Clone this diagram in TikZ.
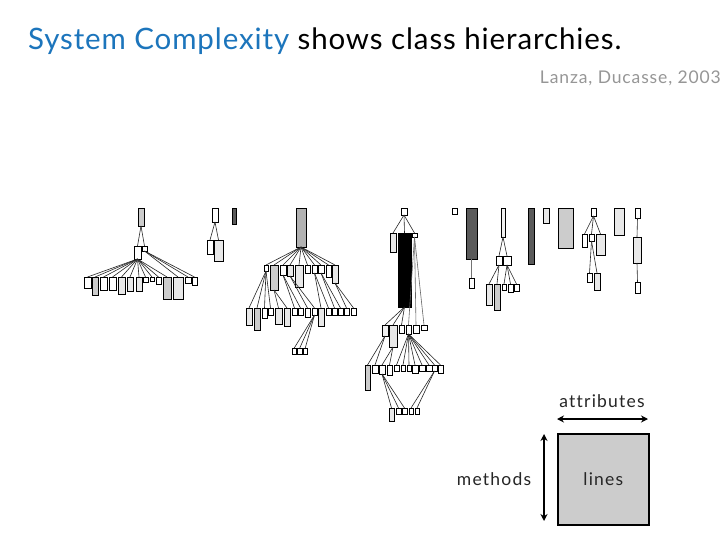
\documentclass[tikz,border=0pt]{standalone}
\usepackage{fontspec}
\setmainfont{Lato}
\usetikzlibrary{arrows.meta}
\definecolor{titleblue}{RGB}{28,117,188}
\definecolor{citegray}{RGB}{150,150,150}
\definecolor{gA}{RGB}{232,232,232}
\definecolor{gB}{RGB}{204,204,204}
\definecolor{gC}{RGB}{178,178,178}
\definecolor{gD}{RGB}{90,90,90}
\begin{document}
\begin{tikzpicture}[x=1pt,y=-1pt,
  bx/.style={draw=black, line width=0.8pt, inner sep=0pt, outer sep=0pt, anchor=north west},
  edge/.style={draw=black!85, line width=0.6pt},
  legendtext/.style={font=\fontsize{17.5}{20}\selectfont\addfontfeatures{LetterSpace=7,Ligatures=NoCommon}, text=black!85, inner sep=0pt},
  dbl/.style={line width=1.6pt, {Stealth[length=7pt,width=7pt]}-{Stealth[length=7pt,width=7pt]}}]
\useasboundingbox[fill=white] (0,0) rectangle (728,546);
\newcommand\mybx[6]{\node[bx, fill=#6, minimum width=#4pt, minimum height=#5pt] (#1) at (#2,#3) {};}

% title
\node[anchor=base west, inner sep=0pt, font=\fontsize{29.5}{32}\selectfont\addfontfeatures{LetterSpace=3}] (title) at (28,49)
  {\textcolor{titleblue}{System Complexity} shows class hierarchies.};
\node[anchor=base east, inner sep=0pt, font=\fontsize{17.5}{20}\selectfont\addfontfeatures{LetterSpace=5}, text=citegray] (cite) at (721,83)
  {Lanza, Ducasse, 2003};

% ---------- tree 1
\mybx{t1r}{138}{208}{6}{18}{gB}
\mybx{t1a}{134}{246}{7}{13}{white}
\mybx{t1b}{142}{246}{5}{5}{white}
\mybx{t1l1}{84}{277}{7}{11}{white}
\mybx{t1l2}{92}{277}{6}{18}{gB}
\mybx{t1l3}{100}{277}{7}{13}{white}
\mybx{t1l4}{109}{277}{7}{13}{white}
\mybx{t1l5}{118}{277}{7}{17}{gA}
\mybx{t1l6}{127}{277}{6}{14}{gA}
\mybx{t1l7}{136}{277}{6}{14}{gA}
\mybx{t1l8}{143}{277}{5}{5}{white}
\mybx{t1l9}{150}{277}{4}{4}{white}
\mybx{t1l10}{156}{277}{5}{7}{white}
\mybx{t1l11}{163}{277}{8}{22}{gB}
\mybx{t1l12}{173}{277}{10}{22}{gA}
\mybx{t1l13}{185}{277}{6}{6}{white}
\mybx{t1l14}{192}{277}{5}{8}{white}
\draw[edge] (t1r.south) -- (t1a.north);
\draw[edge] (t1r.south) -- (t1b.north);
\foreach \i in {1,...,11} \draw[edge] (t1a.south) -- (t1l\i.north);
\foreach \i in {12,...,14} \draw[edge] (t1b.south) -- (t1l\i.north);

% ---------- tree 2
\mybx{t2r}{212}{208}{6}{14}{white}
\mybx{t2d}{232}{208}{4}{16}{gD}
\mybx{t2a}{207}{240}{6}{14}{white}
\mybx{t2b}{214}{240}{9}{21}{gA}
\draw[edge] (t2r.south) -- (t2a.north);
\draw[edge] (t2r.south) -- (t2b.north);

% ---------- tree 3
\mybx{t3r}{296}{208}{10}{39}{gC}
\mybx{t3a}{264}{265}{4}{6}{white}
\mybx{t3b}{270}{265}{8}{25}{gB}
\mybx{t3c}{280}{265}{6}{10}{white}
\mybx{t3d}{287}{265}{6}{11}{gA}
\mybx{t3e}{295}{265}{8}{22}{gA}
\mybx{t3f}{305}{265}{5}{8}{white}
\mybx{t3g}{312}{265}{5}{8}{white}
\mybx{t3h}{318}{265}{6}{8}{white}
\mybx{t3i}{326}{265}{5}{12}{white}
\mybx{t3j}{332}{265}{6}{18}{gA}
\foreach \n in {a,b,c,d,e,f,g,h,i,j} \draw[edge] (t3r.south) -- (t3\n.north);
\mybx{t3m1}{246}{308}{6}{17}{gA}
\mybx{t3m2}{254}{308}{6}{22}{gB}
\mybx{t3m3}{262}{308}{5}{10}{white}
\mybx{t3m4}{268}{308}{5}{7}{white}
\mybx{t3m5}{275}{308}{7}{16}{gA}
\mybx{t3m6}{284}{308}{6}{18}{gA}
\mybx{t3m7}{292}{308}{5}{7}{white}
\mybx{t3m8}{298}{308}{5}{7}{white}
\mybx{t3m9}{305}{308}{5}{9}{white}
\mybx{t3m10}{312}{308}{5}{7}{white}
\mybx{t3m11}{318}{308}{6}{18}{gA}
\mybx{t3m12}{326}{308}{5}{7}{white}
\mybx{t3m13}{332}{308}{5}{7}{white}
\mybx{t3m14}{338}{308}{5}{7}{white}
\mybx{t3m15}{344}{308}{5}{7}{white}
\mybx{t3m16}{351}{308}{5}{7}{white}
\foreach \i in {1,2,3,4} \draw[edge] (t3a.south) -- (t3m\i.north);
\foreach \i in {5,6} \draw[edge] (t3b.south) -- (t3m\i.north);
\foreach \i in {7,8} \draw[edge] (t3c.south) -- (t3m\i.north);
\foreach \i in {9,10} \draw[edge] (t3d.south) -- (t3m\i.north);
\foreach \i in {11,12} \draw[edge] (t3g.south) -- (t3m\i.north);
\foreach \i in {13,14} \draw[edge] (t3h.south) -- (t3m\i.north);
\foreach \i in {15,16} \draw[edge] (t3j.south) -- (t3m\i.north);
\mybx{t3n1}{292}{348}{4.5}{6}{white}
\mybx{t3n2}{297.5}{348}{4.5}{6}{white}
\mybx{t3n3}{303}{348}{4.5}{6}{white}
\foreach \i in {1,2,3} \draw[edge] (t3m10.south) -- (t3n\i.north);

% ---------- tree 4
\mybx{t4r}{401}{208}{6}{7}{white}
\mybx{t4a}{390}{233}{6}{19}{gA}
\mybx{t4k}{398}{233}{13}{74}{black}
\mybx{t4s}{412}{233}{5}{4}{white}
\foreach \n in {a,k,s} \draw[edge] (t4r.south) -- (t4\n.north);
\mybx{t4m1}{382}{325}{6}{11}{gA!60}
\mybx{t4m2}{389}{325}{8}{22}{gA}
\mybx{t4m3}{399}{325}{5}{8}{white}
\mybx{t4m4}{406}{325}{5}{9}{white}
\mybx{t4m5}{413}{325}{6}{8}{white}
\mybx{t4m6}{421}{325}{6}{5}{white}
\foreach \i in {1,2,3} \draw[edge] (t4k.south) -- (t4m\i.north);
\foreach \i in {4,5,6} \draw[edge,draw=black!60] (t4s.south) -- (t4m\i.north);
\mybx{t4n1}{365}{365}{5}{25}{gB}
\mybx{t4n2}{372}{365}{6}{8}{white}
\mybx{t4n3}{379}{365}{6}{9}{white}
\mybx{t4n4}{387}{365}{5}{10}{white}
\mybx{t4n5}{394}{365}{5}{6}{white}
\mybx{t4n6}{401}{365}{4}{6}{white}
\mybx{t4n7}{407}{365}{4}{6}{white}
\mybx{t4n8}{412}{365}{6}{8}{white}
\mybx{t4n9}{419}{365}{6}{6}{white}
\mybx{t4n10}{426}{365}{6}{6}{white}
\mybx{t4n11}{432}{365}{5}{6}{white}
\mybx{t4n12}{438}{365}{5}{8}{white}
\foreach \i in {1,2} \draw[edge] (t4m1.south) -- (t4n\i.north);
\foreach \i in {3,4} \draw[edge] (t4m2.south) -- (t4n\i.north);
\foreach \i in {5,...,12} \draw[edge] (t4m4.south) -- (t4n\i.north);
\mybx{t4p1}{389}{408}{5}{13}{gA}
\mybx{t4p2}{396}{408}{5}{6}{white}
\mybx{t4p3}{402}{408}{5}{6}{white}
\mybx{t4p4}{409}{408}{4}{6}{white}
\mybx{t4p5}{415}{408}{4}{6}{white}
\foreach \i in {1,2,3} \draw[edge] (t4n3.south) -- (t4p\i.north);
\foreach \i in {4,5} \draw[edge] (t4n11.south) -- (t4p\i.north);

% ---------- tree 5
\mybx{t5s}{452}{208}{5}{6}{white}
\mybx{t5d}{466}{208}{11}{51}{gD}
\mybx{t5dc}{469}{278}{5}{10}{white}
\draw[edge,draw=black!55,line width=0.8pt] (t5d.south) -- (t5dc.north);
\mybx{t5r}{501}{208}{4}{29}{gA!60}
\mybx{t5a}{496}{256}{6}{9}{white}
\mybx{t5b}{503}{256}{8}{9}{white}
\draw[edge] (t5r.south) -- (t5a.north);
\draw[edge] (t5r.south) -- (t5b.north);
\mybx{t5g1}{486}{284}{6}{21}{gA}
\mybx{t5g2}{494}{284}{6}{26}{gB}
\mybx{t5g3}{502}{284}{4}{6}{white}
\mybx{t5g4}{508}{284}{5}{8}{white}
\mybx{t5g5}{514}{284}{5}{7}{white}
\foreach \i in {1,2} \draw[edge] (t5a.south) -- (t5g\i.north);
\foreach \i in {3,4,5} \draw[edge] (t5b.south) -- (t5g\i.north);
\mybx{t5e}{528}{208}{6}{56}{gD}

% ---------- tree 6
\mybx{t6q1}{543}{208}{6}{15}{gA}
\mybx{t6q2}{558}{208}{15}{40}{gB}
\mybx{t6r}{591}{208}{5}{8}{white}
\mybx{t6a}{582}{234}{5}{13}{white}
\mybx{t6b}{589}{234}{5}{7}{white}
\mybx{t6c}{596}{234}{9}{21}{gA}
\foreach \n in {a,b,c} \draw[edge] (t6r.south) -- (t6\n.north);
\mybx{t6g1}{587}{273}{5}{9}{white}
\mybx{t6g2}{594}{273}{6}{17}{gA}
\draw[edge] (t6b.south) -- (t6g1.north);
\draw[edge] (t6b.south) -- (t6g2.north);
\mybx{t6q3}{614}{208}{10}{27}{gA}
\mybx{t6c1}{635}{208}{5}{10}{white}
\mybx{t6c2}{633}{237}{8}{26}{gA}
\mybx{t6c3}{635}{282}{5}{11}{white}
\draw[edge] (t6c1.south) -- (t6c2.north);
\draw[edge] (t6c2.south) -- (t6c3.north);

% ---------- legend
\node[draw=black, line width=1.6pt, fill=gB, minimum width=91pt, minimum height=91pt, inner sep=0pt, anchor=north west] (lbox) at (557,433) {};
\node[legendtext] (llines) at (lbox.center) {lines};
\coordinate (ah1) at (557,419);
\coordinate (ah2) at (648,419);
\coordinate (av1) at (544,434);
\coordinate (av2) at (544,521);
\draw[dbl] (ah1) -- (ah2);
\draw[dbl] (av1) -- (av2);
\node[legendtext, anchor=base] (lattr) at (602,407) {attributes};
\node[legendtext, anchor=base] (lmeth) at (494,485) {methods};
\end{tikzpicture}
\end{document}
